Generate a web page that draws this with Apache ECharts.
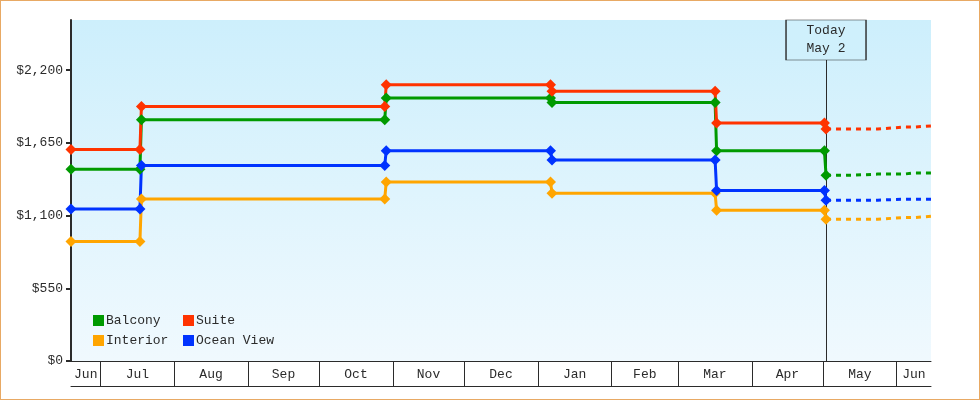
<!DOCTYPE html>
<html>
<head>
<meta charset="utf-8">
<script src="https://cdn.jsdelivr.net/npm/echarts@6/dist/echarts.min.js"></script>
<style>
  html, body { margin: 0; padding: 0; background: #ffffff; }
  #wrap { width: 980px; height: 400px; box-sizing: border-box; border: 1px solid #e8a964; background: #ffffff; }
  #chart { width: 978px; height: 398px; }
</style>
</head>
<body>
<div id="wrap"><div id="chart"></div></div>
<script>
// ---------- data ----------
const axisStart = '2024-06-18T14:00';
const axisEnd = '2025-06-15T10:00';
const todayDate = '2025-05-02T06:00';
const todayText = 'Today\nMay 2';

// price change moments: last point at old price, first point at new price
const stepOld = ['2024-07-17T14:00', '2024-10-28T14:00', '2025-01-06T08:00', '2025-03-16T14:00', '2025-05-01T14:00'];
const stepNew = ['2024-07-18T05:00', '2024-10-29T05:00', '2025-01-06T23:00', '2025-03-17T05:00', '2025-05-02T06:00'];

// price levels (initial, then after each change)
const balcony   = [1450, 1825, 1990, 1955, 1590, 1406];
const suite     = [1600, 1925, 2090, 2040, 1800, 1755];
const interior  = [905, 1225, 1355, 1270, 1140, 1073];
const oceanView = [1150, 1480, 1590, 1520, 1290, 1217];

// forecast (dashed)
const forecastDates = ['2025-05-02T06:00', '2025-05-14T00:00', '2025-05-24T00:00', '2025-06-04T00:00', '2025-06-08T00:00', '2025-06-15T10:00'];
const balconyForecast   = [1406, 1414, 1414, 1422, 1422, 1422];
const suiteForecast     = [1755, 1755, 1770, 1770, 1778, 1778];
const interiorForecast  = [1073, 1073, 1085, 1085, 1095, 1095];
const oceanViewForecast = [1217, 1217, 1224, 1224, 1224, 1224];

const seriesNames = ['Balcony', 'Interior', 'Suite', 'Ocean View'];
const yTicks = [0, 550, 1100, 1650, 2200];
const yMax = 2580;

const monthStarts = ['2024-07-01', '2024-08-01', '2024-09-01', '2024-10-01', '2024-11-01', '2024-12-01',
                     '2025-01-01', '2025-02-01', '2025-03-01', '2025-04-01', '2025-05-01', '2025-06-01'];
const monthLabels = ['Jun', 'Jul', 'Aug', 'Sep', 'Oct', 'Nov', 'Dec', 'Jan', 'Feb', 'Mar', 'Apr', 'May', 'Jun'];

// ---------- build ----------
const T = s => new Date(s.length === 10 ? s + 'T00:00' : s).getTime();
const FONT = '"Liberation Mono", "DejaVu Sans Mono", monospace';
const INK = '#2b2b2b';

const colors = { 'Balcony': '#009a00', 'Interior': '#ffa500', 'Suite': '#ff3300', 'Ocean View': '#0033ff' };
const levels = { 'Balcony': balcony, 'Interior': interior, 'Suite': suite, 'Ocean View': oceanView };
const forecasts = { 'Balcony': balconyForecast, 'Interior': interiorForecast, 'Suite': suiteForecast, 'Ocean View': oceanViewForecast };

function history(lv) {
  const pts = [[T(axisStart), lv[0]]];
  for (let i = 0; i < stepOld.length; i++) {
    pts.push([T(stepOld[i]), lv[i]]);
    pts.push([T(stepNew[i]), lv[i + 1]]);
  }
  return pts;
}
function forecast(fv) {
  return forecastDates.map((d, i) => [T(d), fv[i]]);
}

const bounds = [T(axisStart)].concat(monthStarts.map(T)).concat([T(axisEnd)]);
const monthMids = [];
for (let i = 0; i < bounds.length - 1; i++) monthMids.push((bounds[i] + bounds[i + 1]) / 2);

const series = [];
seriesNames.forEach(name => {
  series.push({
    name: name,
    type: 'line',
    data: history(levels[name]),
    symbol: 'diamond',
    symbolSize: 11,
    showSymbol: true,
    lineStyle: { width: 3, color: colors[name] },
    itemStyle: { color: colors[name] },
    emphasis: { disabled: true },
    z: 3
  });
});
seriesNames.forEach((name, idx) => {
  const s = {
    name: name + ' forecast',
    type: 'line',
    data: forecast(forecasts[name]),
    step: 'end',
    showSymbol: false,
    symbol: 'none',
    lineStyle: { width: 3, color: colors[name], type: [5, 5], dashOffset: 0 },
    itemStyle: { color: colors[name] },
    emphasis: { disabled: true },
    z: 2
  };
  if (idx === 0) {
    s.markLine = {
      silent: true, symbol: 'none', z: 1, animation: false,
      label: { show: false },
      lineStyle: { color: INK, width: 1, type: 'solid' },
      data: [{ xAxis: T(todayDate) }]
    };
    s.markPoint = {
      silent: true, z: 6, animation: false,
      symbol: 'rect', symbolSize: [80, 40], symbolOffset: [0, 20],
      itemStyle: { color: '#cff0fc', borderColor: INK, borderWidth: 1 },
      label: { show: true, position: 'inside', formatter: todayText, fontFamily: FONT, fontSize: 13, lineHeight: 18, color: INK, padding: [7, 0, 0, 0] },
      data: [{ coord: [T(todayDate), yMax] }]
    };
  }
  series.push(s);
});

const chart = echarts.init(document.getElementById('chart'), null, { renderer: 'canvas' });
chart.setOption({
  animation: false,
  backgroundColor: '#ffffff',
  grid: {
    left: 70, right: 48, top: 19, bottom: 38,
    show: true, borderWidth: 0,
    backgroundColor: new echarts.graphic.LinearGradient(0, 0, 0, 1, [
      { offset: 0, color: '#cdeffc' },
      { offset: 1, color: '#f0f9fe' }
    ])
  },
  legend: {
    data: seriesNames,
    orient: 'vertical',
    left: 92, top: 312, height: 38,
    padding: 0, itemGap: 5, itemWidth: 11, itemHeight: 11,
    icon: 'rect',
    selectedMode: false,
    textStyle: { fontFamily: FONT, fontSize: 13, color: INK, width: 72, lineHeight: 15, padding: [0, 0, 0, -3] }
  },
  xAxis: [{
    type: 'value',
    min: T(axisStart), max: T(axisEnd),
    axisLine: { show: true, onZero: false, lineStyle: { color: INK, width: 1 } },
    axisTick: { show: true, length: 25, lineStyle: { color: INK, width: 1 }, customValues: monthStarts.map(T) },
    axisLabel: {
      show: true, margin: 7, fontFamily: FONT, fontSize: 13, color: INK,
      customValues: monthMids,
      formatter: v => {
        let best = 0, bd = Infinity;
        monthMids.forEach((m, i) => { const d = Math.abs(m - v); if (d < bd) { bd = d; best = i; } });
        return monthLabels[best];
      }
    },
    splitLine: { show: false }
  }, {
    type: 'value',
    min: T(axisStart), max: T(axisEnd),
    position: 'bottom', offset: 25,
    axisLine: { show: true, onZero: false, lineStyle: { color: INK, width: 1 } },
    axisTick: { show: false },
    axisLabel: { show: false },
    splitLine: { show: false }
  }],
  yAxis: {
    type: 'value',
    min: 0, max: yMax,
    axisLine: { show: true, lineStyle: { color: INK, width: 2 } },
    axisTick: { show: true, length: 5, lineStyle: { color: INK, width: 2 }, customValues: yTicks },
    axisLabel: {
      show: true, margin: 8, fontFamily: FONT, fontSize: 13, color: INK,
      customValues: yTicks,
      formatter: v => '$' + Number(v).toLocaleString('en-US')
    },
    splitLine: { show: false }
  },
  series: series
});
</script>
</body>
</html>
